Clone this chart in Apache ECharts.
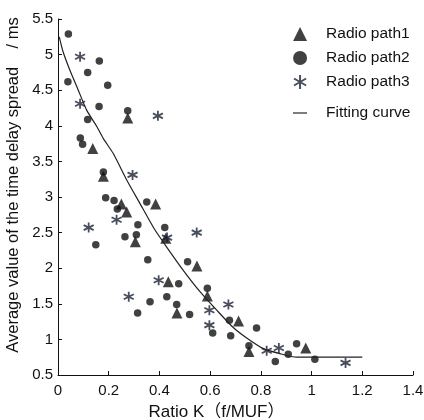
<!DOCTYPE html>
<html><head><meta charset="utf-8">
<script src="https://cdn.jsdelivr.net/npm/echarts@6/dist/echarts.min.js"></script>
<style>html,body{margin:0;padding:0;background:#fff}#c{width:424px;height:420px}</style>
</head><body><div id="c"></div>
<script>
const path1 = [[0.275,4.11],[0.137,3.68],[0.179,3.29],[0.250,2.90],[0.271,2.79],[0.385,2.90],[0.305,2.37],[0.425,2.42],[0.435,1.81],[0.548,2.03],[0.469,1.37],[0.589,1.61],[0.712,1.26],[0.753,0.83],[0.977,0.88]];
const path2 = [[0.041,5.29],[0.163,4.91],[0.117,4.75],[0.039,4.62],[0.196,4.57],[0.162,4.27],[0.117,4.09],[0.088,3.83],[0.097,3.74],[0.275,4.21],[0.179,3.35],[0.188,2.99],[0.221,2.95],[0.234,2.83],[0.350,2.93],[0.315,2.61],[0.264,2.44],[0.309,2.47],[0.149,2.33],[0.421,2.57],[0.354,2.12],[0.511,2.09],[0.476,1.78],[0.429,1.60],[0.363,1.53],[0.468,1.49],[0.314,1.37],[0.519,1.35],[0.589,1.72],[0.676,1.27],[0.610,1.09],[0.681,1.05],[0.783,1.16],[0.753,0.91],[0.857,0.69],[0.908,0.79],[0.941,0.94],[1.013,0.72]];
const path3 = [[0.087,4.97],[0.087,4.31],[0.394,4.14],[0.294,3.31],[0.121,2.57],[0.231,2.68],[0.430,2.43],[0.547,2.50],[0.397,1.83],[0.279,1.60],[0.672,1.49],[0.597,1.41],[0.597,1.20],[0.823,0.84],[0.871,0.88],[1.134,0.67]];
const fitCurve = [[0.005,5.25],[0.02,5.04],[0.047,4.78],[0.08,4.50],[0.113,4.22],[0.153,3.99],[0.179,3.82],[0.218,3.61],[0.271,3.24],[0.323,2.91],[0.38,2.55],[0.43,2.29],[0.494,1.97],[0.56,1.67],[0.626,1.41],[0.69,1.17],[0.744,1.02],[0.81,0.87],[0.875,0.80],[0.94,0.75],[1.2,0.75]];
const seriesNames = ['Radio path1','Radio path2','Radio path3','Fitting curve'];
const xTitle = 'Ratio K（f/MUF）';
const yTitle = 'Average value of the time delay spread    / ms';

const star = 'path://M0,-10L0,10M-8.66,-5L8.66,5M-8.66,5L8.66,-5';
const ink = '#111';
const font = 'Liberation Sans, Arial, Noto Sans CJK SC, sans-serif';
const chart = echarts.init(document.getElementById('c'));
const legText = {fontSize: 15.5, lineHeight: 16, color: ink, fontFamily: font, padding: [0,0,0,14]};
chart.setOption({
  animation: false,
  textStyle: {fontFamily: font},
  grid: {left: 58, right: 11, top: 19, bottom: 45, containLabel: false, outerBoundsMode: 'none'},
  legend: [{
    orient: 'vertical', left: 293, top: 26, padding: 0, itemGap: 8, itemWidth: 14, itemHeight: 14,
    data: seriesNames.slice(0,3),
    textStyle: legText
  },{
    orient: 'vertical', left: 293, top: 105, padding: 0, itemWidth: 14, itemHeight: 14,
    data: [{name: seriesNames[3], icon: 'path://M0,0L12,0L12,1L0,1Z'}],
    textStyle: legText
  }],
  xAxis: {
    type: 'value', min: 0, max: 1.4, interval: 0.2,
    name: xTitle, nameLocation: 'middle', nameGap: 29,
    nameTextStyle: {fontSize: 17, color: ink, fontFamily: font, padding: [0,38,0,0]},
    axisLine: {lineStyle: {color: ink, width: 1}},
    axisTick: {inside: true, length: 4, lineStyle: {color: ink}},
    axisLabel: {fontSize: 15, color: ink, margin: 8},
    splitLine: {show: false}
  },
  yAxis: {
    type: 'value', min: 0.5, max: 5.5, interval: 0.5,
    name: yTitle, nameLocation: 'middle', nameGap: 34, nameRotate: 90,
    nameTextStyle: {fontSize: 16.5, color: ink, fontFamily: font, padding: [0,0,0,24]},
    axisLine: {show: true, lineStyle: {color: ink, width: 1}},
    axisTick: {show: true, inside: true, length: 4, lineStyle: {color: ink}},
    axisLabel: {fontSize: 15, color: ink, margin: 5},
    splitLine: {show: false}
  },
  series: [
    {name: seriesNames[0], type: 'scatter', data: path1, symbol: 'triangle', symbolSize: 11, itemStyle: {color: ink}},
    {name: seriesNames[1], type: 'scatter', data: path2, symbol: 'circle', symbolSize: 7.5, itemStyle: {color: ink}},
    {name: seriesNames[2], type: 'scatter', data: path3, symbol: star, symbolSize: 10, itemStyle: {color: '#1c2233', borderColor: '#1c2233', borderWidth: 1.8}},
    {name: seriesNames[3], type: 'line', data: fitCurve, showSymbol: false, symbol: 'none', smooth: 0.2, lineStyle: {color: '#222', width: 1.2}, itemStyle: {color: '#222'}}
  ]
});
</script></body></html>
